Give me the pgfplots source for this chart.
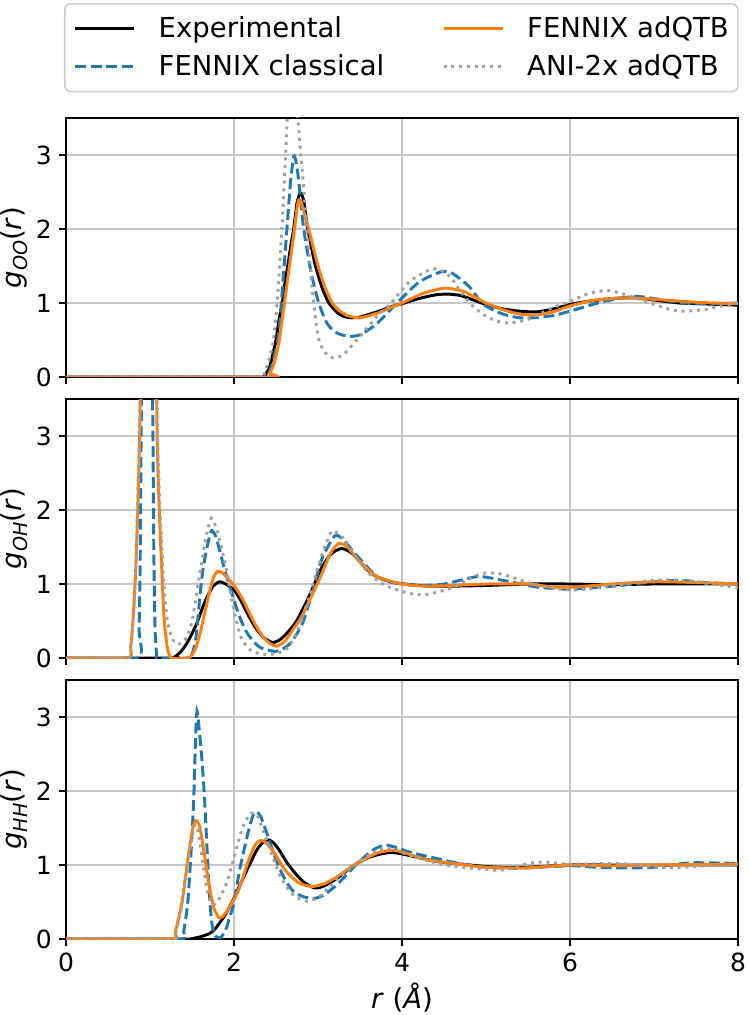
\documentclass[border=0pt]{standalone}
\usepackage{fontspec}
\setmainfont{DejaVu Sans}
\usepackage{pgfplots}
\pgfplotsset{compat=1.18}
\definecolor{tabblue}{HTML}{1F77B4}
\definecolor{tabor}{HTML}{FF7F0E}
\definecolor{mgray}{HTML}{A0A0A0}
\definecolor{gridc}{HTML}{C6C6C6}
\definecolor{legc}{HTML}{CCCCCC}
\newcommand\sub[1]{\raisebox{-0.22em}{\fontsize{9.6}{10}\selectfont\itshape #1}}
\pgfplotsset{
  myax/.style={
    scale only axis, width=336pt, height=129.5pt,
    xmin=0, xmax=8, ymin=0, ymax=3.5,
    xtick={0,2,4,6,8}, ytick={0,1,2,3},
    grid=major, major grid style={color=gridc, line width=0.8pt},
    tick align=outside, xtick pos=left, ytick pos=left,
    major tick length=3.45pt,
    tick style={black, line width=0.8pt},
    axis line style={black, line width=0.8pt},
    tick label style={font=\fontsize{12.5}{15}\selectfont},
    /pgf/number format/assume math mode=true,
    xticklabel shift=3.45pt, yticklabel shift=3.45pt,
    yticklabel style={anchor=east, inner sep=0pt},
    xticklabel style={anchor=north, inner sep=0pt},
    ylabel style={at={(axis description cs:-0.0658,0.5)}, anchor=base, inner sep=0pt, rotate=0, font=\fontsize{13.75}{16}\selectfont},
  },
  exp/.style={black, line width=1.47pt, smooth, tension=0.4},
  cla/.style={tabblue, line width=1.47pt, dash pattern=on 5.4pt off 2.35pt, smooth, tension=0.4},
  qtb/.style={tabor, line width=1.47pt, smooth, tension=0.4},
  ani/.style={mgray, line width=1.47pt, dash pattern=on 1.47pt off 2.4pt, smooth, tension=0.4},
}
\begin{document}
\begin{tikzpicture}
\useasboundingbox (0,0) rectangle (374pt,-507.5pt);
% ---------------- g_OO
\begin{axis}[myax, at={(33pt,-188.5pt)}, anchor=south west,
  xticklabels={},
  ylabel={\textit{g}\sub{OO}(\textit{r})},
  legend columns=2, transpose legend, legend cell align=left,
  legend image code/.code={\draw[#1] (0pt,0pt) -- (29.5pt,0pt);},
  legend style={at={(axis description cs:-0.003,1.444)}, anchor=north west,
    draw=legc, line width=0.8pt, fill=white, rounded corners=3pt,
    inner xsep=4.5pt, inner ysep=6.5pt,
    font=\fontsize{13.75}{16}\selectfont,
    nodes={inner sep=0pt},
    row sep=7pt,
    /tikz/every odd column/.append style={column sep=11.5pt},
    /tikz/every even column/.append style={column sep=29pt}},
]
\addplot[exp] coordinates {(0,0)(2.30,0)(2.36,0.02)(2.42,0.12)(2.46,0.3)(2.50,0.5)(2.54,0.8)(2.575,1.0)(2.61,1.3)(2.64,1.5)(2.68,1.8)(2.71,2.0)(2.75,2.35)(2.79,2.49)(2.83,2.38)(2.87,2.05)(2.92,1.76)(2.97,1.5)(3.05,1.2)(3.13,1.0)(3.22,0.88)(3.3,0.82)(3.4,0.8)(3.5,0.81)(3.7,0.88)(3.9,0.96)(4.0,0.99)(4.2,1.06)(4.4,1.11)(4.55,1.12)(4.7,1.1)(4.85,1.04)(5.0,0.98)(5.2,0.92)(5.4,0.89)(5.6,0.88)(5.8,0.92)(6.0,0.98)(6.2,1.02)(6.5,1.06)(6.75,1.07)(7.0,1.04)(7.3,1.0)(7.55,0.99)(8,0.97)};
\addlegendentry{Experimental}
\addplot[cla] coordinates {(0,0)(2.36,0)(2.41,0.05)(2.46,0.2)(2.52,0.5)(2.55,0.8)(2.59,1.4)(2.63,2.0)(2.67,2.6)(2.71,2.98)(2.74,2.9)(2.77,2.65)(2.83,2.0)(2.92,1.4)(3.01,1.0)(3.1,0.74)(3.2,0.61)(3.35,0.55)(3.5,0.57)(3.7,0.72)(3.94,1.0)(4.2,1.28)(4.46,1.42)(4.6,1.4)(4.8,1.22)(4.97,0.98)(5.2,0.85)(5.4,0.8)(5.57,0.8)(5.8,0.83)(6.0,0.89)(6.4,1.02)(6.76,1.09)(7.0,1.06)(7.35,1.0)(7.7,0.99)(8,1.0)};
\addlegendentry{FENNIX classical}
\addplot[qtb] coordinates {(0,0)(2.38,0)(2.43,0.05)(2.48,0.2)(2.54,0.5)(2.6,1.0)(2.66,1.5)(2.72,2.0)(2.75,2.28)(2.77,2.39)(2.80,2.36)(2.84,2.2)(2.9,1.95)(2.95,1.72)(3.0,1.5)(3.08,1.22)(3.17,1.0)(3.25,0.9)(3.35,0.83)(3.5,0.8)(3.7,0.86)(3.85,0.93)(4.0,1.0)(4.25,1.13)(4.5,1.2)(4.7,1.17)(4.85,1.09)(5.0,1.0)(5.2,0.91)(5.4,0.85)(5.6,0.84)(5.8,0.88)(6.0,0.96)(6.3,1.04)(6.7,1.07)(7.0,1.05)(7.5,1.01)(8,0.99)};
\addlegendentry{FENNIX adQTB}
\addplot[ani] coordinates {(0,0)(2.30,0)(2.36,0.05)(2.42,0.25)(2.47,0.5)(2.52,1.1)(2.57,2.0)(2.61,2.9)(2.635,3.5)(2.67,3.8)(2.70,3.85)(2.73,3.75)(2.76,3.5)(2.8,2.95)(2.87,2.0)(2.93,1.2)(3.0,0.55)(3.07,0.35)(3.15,0.27)(3.21,0.26)(3.3,0.3)(3.4,0.42)(3.5,0.55)(3.7,0.82)(3.87,1.0)(4.1,1.3)(4.36,1.46)(4.5,1.42)(4.6,1.32)(4.7,1.15)(4.85,0.95)(5.0,0.82)(5.15,0.75)(5.29,0.73)(5.5,0.78)(5.8,0.94)(6.0,1.02)(6.2,1.12)(6.44,1.17)(6.7,1.1)(7.0,0.98)(7.2,0.91)(7.35,0.89)(7.6,0.91)(7.8,0.96)(8,1.0)};
\addlegendentry{ANI-2x adQTB}
\end{axis}
% ---------------- g_OH
\begin{axis}[myax, at={(33pt,-329pt)}, anchor=south west,
  xticklabels={},
  ylabel={\textit{g}\sub{OH}(\textit{r})},
]
\addplot[exp] coordinates {(0,0)(1.25,0)(1.3,0.02)(1.37,0.09)(1.45,0.22)(1.55,0.45)(1.65,0.75)(1.75,0.97)(1.83,1.03)(1.9,1.0)(2.0,0.92)(2.08,0.78)(2.16,0.6)(2.25,0.42)(2.35,0.28)(2.46,0.21)(2.55,0.25)(2.65,0.36)(2.75,0.51)(2.9,0.85)(3.03,1.19)(3.15,1.4)(3.28,1.48)(3.4,1.42)(3.5,1.3)(3.6,1.18)(3.7,1.1)(3.9,1.02)(4.2,0.98)(4.5,0.97)(5.0,0.98)(5.5,1.0)(6.0,1.0)(6.5,0.99)(7,1.0)(8,1.0)};
\addplot[cla] coordinates {(0,0)(0.85,0)(0.87,0.4)(0.885,1.5)(0.9,3.6)(0.97,9)(1.03,3.6)(1.045,1.5)(1.06,0.4)(1.08,0.05)(1.1,0)(1.45,0)(1.5,0.05)(1.55,0.3)(1.6,0.9)(1.63,1.19)(1.68,1.5)(1.73,1.72)(1.78,1.65)(1.83,1.45)(1.89,1.19)(2.0,0.78)(2.08,0.52)(2.16,0.33)(2.3,0.15)(2.48,0.09)(2.58,0.12)(2.67,0.2)(2.75,0.33)(2.83,0.51)(2.95,0.96)(3.05,1.35)(3.2,1.65)(3.3,1.6)(3.45,1.4)(3.7,1.1)(3.9,1.02)(4.2,0.98)(4.5,1.0)(4.9,1.1)(5.2,1.05)(5.6,0.96)(6.0,0.93)(6.5,0.97)(7.0,1.03)(7.3,1.05)(7.6,1.02)(8,1.0)};
\addplot[qtb] coordinates {(0,0)(0.73,0)(0.77,0.15)(0.8,0.55)(0.83,1.2)(0.855,2.0)(0.88,3.2)(0.92,6)(0.97,8)(1.05,6)(1.085,3.0)(1.11,2.0)(1.14,1.2)(1.17,0.5)(1.21,0.12)(1.26,0)(1.45,0)(1.5,0.04)(1.55,0.15)(1.6,0.35)(1.65,0.6)(1.7,0.85)(1.75,1.07)(1.8,1.17)(1.85,1.16)(1.9,1.11)(2.0,0.98)(2.1,0.8)(2.2,0.57)(2.3,0.36)(2.4,0.22)(2.5,0.16)(2.6,0.22)(2.7,0.38)(2.8,0.55)(2.95,0.9)(3.05,1.15)(3.15,1.42)(3.25,1.55)(3.35,1.5)(3.5,1.3)(3.7,1.1)(4.0,1.0)(4.3,0.97)(4.6,0.98)(5.0,1.0)(5.5,1.0)(5.9,0.95)(6.5,1.0)(7.0,1.03)(7.5,1.02)(8,1.0)};
\addplot[ani] coordinates {(0,0)(0.73,0)(0.77,0.15)(0.8,0.55)(0.83,1.2)(0.85,2.0)(0.875,3.2)(0.92,6)(0.97,8)(1.05,6)(1.09,3.0)(1.12,2.0)(1.16,1.1)(1.2,0.55)(1.25,0.3)(1.3,0.2)(1.35,0.19)(1.42,0.25)(1.5,0.5)(1.6,1.19)(1.67,1.65)(1.73,1.89)(1.8,1.72)(1.86,1.45)(1.91,1.19)(1.98,0.74)(2.08,0.29)(2.2,0.1)(2.36,0.05)(2.5,0.06)(2.63,0.13)(2.75,0.35)(2.87,0.74)(2.99,1.19)(3.08,1.5)(3.17,1.72)(3.3,1.62)(3.4,1.45)(3.6,1.15)(3.8,0.98)(4.1,0.87)(4.3,0.86)(4.6,0.95)(4.85,1.1)(5.0,1.15)(5.2,1.13)(5.5,1.02)(5.8,0.94)(6.1,0.92)(6.5,0.98)(7.0,1.05)(7.3,1.05)(7.7,1.0)(8,0.95)};
\end{axis}
% ---------------- g_HH
\begin{axis}[myax, at={(33pt,-469.5pt)}, anchor=south west,
  ylabel={\textit{g}\sub{HH}(\textit{r})},
  xlabel={\textit{r} (\textit{Å})},
  xlabel style={at={(axis description cs:0.5,-0.2664)}, anchor=base, inner sep=0pt, font=\fontsize{13.75}{16}\selectfont},
]
\addplot[exp] coordinates {(0,0)(1.4,0)(1.5,0.005)(1.6,0.03)(1.7,0.07)(1.77,0.13)(1.88,0.3)(1.99,0.53)(2.12,0.85)(2.27,1.2)(2.35,1.31)(2.41,1.34)(2.47,1.3)(2.54,1.2)(2.62,1.05)(2.72,0.9)(2.83,0.77)(2.96,0.69)(3.08,0.72)(3.24,0.83)(3.43,1.0)(3.6,1.1)(3.75,1.15)(3.87,1.17)(4.0,1.15)(4.2,1.1)(4.4,1.05)(4.62,1.02)(5.0,0.98)(5.18,0.97)(5.5,0.97)(6.0,1.0)(6.5,1.0)(7,1.0)(8,1.0)};
\addplot[cla] coordinates {(0,0)(1.35,0)(1.4,0.1)(1.45,0.5)(1.49,1.2)(1.52,1.88)(1.545,2.8)(1.56,3.08)(1.58,2.9)(1.62,2.4)(1.65,1.88)(1.68,1.2)(1.71,0.55)(1.74,0.18)(1.78,0.04)(1.84,0.02)(1.9,0.12)(1.95,0.3)(2.0,0.5)(2.07,0.95)(2.17,1.45)(2.23,1.68)(2.27,1.72)(2.32,1.65)(2.4,1.4)(2.5,1.07)(2.6,0.82)(2.7,0.65)(2.83,0.57)(2.96,0.55)(3.08,0.6)(3.24,0.75)(3.45,1.0)(3.65,1.2)(3.8,1.27)(3.95,1.23)(4.1,1.17)(4.33,1.11)(4.6,1.04)(4.9,0.98)(5.2,0.96)(5.46,0.96)(6.0,0.99)(6.3,0.97)(6.6,0.96)(7.0,0.97)(7.44,1.03)(8,1.02)};
\addplot[qtb] coordinates {(0,0)(1.23,0)(1.3,0.1)(1.38,0.5)(1.46,1.15)(1.51,1.5)(1.55,1.6)(1.59,1.52)(1.64,1.2)(1.7,0.75)(1.76,0.42)(1.82,0.29)(1.86,0.3)(1.93,0.4)(2.05,0.65)(2.17,1.05)(2.25,1.27)(2.31,1.33)(2.37,1.31)(2.47,1.18)(2.61,0.93)(2.77,0.76)(2.93,0.71)(3.08,0.75)(3.24,0.85)(3.43,1.0)(3.7,1.16)(3.9,1.2)(4.1,1.14)(4.3,1.07)(4.62,1.02)(5.0,0.97)(5.46,0.96)(6.0,1.0)(6.5,0.99)(7,1.0)(8,1.01)};
\addplot[ani] coordinates {(0,0)(1.25,0)(1.31,0.1)(1.38,0.45)(1.46,1.1)(1.52,1.5)(1.56,1.52)(1.62,1.1)(1.68,0.65)(1.74,0.47)(1.8,0.5)(1.9,0.72)(2.0,1.1)(2.1,1.5)(2.2,1.7)(2.28,1.66)(2.4,1.3)(2.55,0.85)(2.7,0.6)(2.87,0.51)(3.02,0.58)(3.22,0.8)(3.43,1.0)(3.68,1.18)(3.83,1.23)(4.1,1.13)(4.5,1.0)(4.9,0.95)(5.18,0.93)(5.5,1.02)(5.7,1.04)(6.0,1.01)(6.6,1.02)(7.16,0.96)(7.6,0.99)(8,1.0)};
\end{axis}
\end{tikzpicture}
\end{document}
